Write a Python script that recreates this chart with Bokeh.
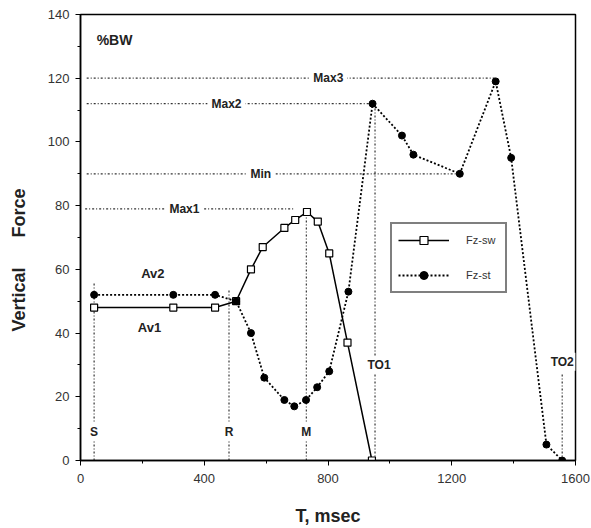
from bokeh.plotting import figure
from bokeh.models import ColumnDataSource, Legend, LegendItem, Range1d, FixedTicker
from bokeh.core.properties import value
from bokeh.embed import file_html
from bokeh.resources import INLINE

# ---- data ----
t_sw = [44, 300, 435, 503, 551, 589, 659, 694, 732, 767, 804, 863, 942]
f_sw = [48, 48, 48, 50, 60, 67, 73, 75.5, 78, 75, 65, 37, 0]

t_st = [44, 300, 435, 503, 551, 594, 659, 691, 729, 765, 804, 866, 944,
        1039, 1076, 1226, 1342, 1392, 1506, 1557]
f_st = [52, 52, 52, 50, 40, 26, 19, 17, 19, 23, 28, 53, 112,
        102, 96, 90, 119, 95, 5, 0]

# horizontal reference levels
h_names = ["Max3", "Max2", "Min", "Max1"]
h_level = [120, 112, 90, 79]
h_start = [20, 20, 20, 15]
h_end = [1342, 944, 1226, 690]
h_label_t = [801, 472, 583, 336]

# vertical event markers
v_names = ["S", "R", "M", "TO1", "TO2"]
v_time = [44, 480, 730, 952, 1557]
v_top = [56, 54, 78, 112, 27]
v_label_t = [44, 480, 730, 965, 1557]
v_label_f = [9, 9, 9, 30, 31]

# free text labels
n_text = ["Av2", "Av1"]
n_t = [234, 223]
n_f = [58.6, 41.8]
unit_text = ["%BW"]
unit_t = [110]
unit_f = [132]

x_ticks = [0, 400, 800, 1200, 1600]
y_ticks = [0, 20, 40, 60, 80, 100, 120, 140]

FONT = "Liberation Sans"

p = figure(width=591, height=528, output_backend="svg", toolbar_location=None,
           x_range=Range1d(0, 1600), y_range=Range1d(0, 140),
           min_border_left=80, min_border_right=16, min_border_top=14,
           min_border_bottom=68)
p.grid.visible = False
p.outline_line_color = "black"
p.outline_line_width = 1.5
p.background_fill_color = "white"

# axes
p.xaxis.ticker = FixedTicker(ticks=x_ticks, minor_ticks=list(range(0, 1601, 200)))
p.yaxis.ticker = FixedTicker(ticks=y_ticks, minor_ticks=list(range(0, 141, 10)))
for ax in (p.xaxis[0], p.yaxis[0]):
    ax.axis_line_color = "black"
    ax.axis_line_width = 1.5
    ax.major_tick_line_color = "black"
    ax.minor_tick_line_color = "black"
    ax.major_tick_out = 5
    ax.major_tick_in = 0
    ax.minor_tick_out = 3
    ax.minor_tick_in = 0
    ax.major_label_text_font = FONT
    ax.major_label_text_font_size = "13px"
    ax.major_label_text_color = "#333333"
    ax.axis_label_text_font = FONT
    ax.axis_label_text_font_size = "18px"
    ax.axis_label_text_font_style = "bold"
    ax.axis_label_text_color = "#222222"

p.xaxis.axis_label = "T, msec"
p.xaxis.major_label_standoff = 8
p.xaxis.axis_label_standoff = 20
nb = "\u00a0"
p.yaxis.axis_label = "Vertical" + nb * 6 + "Force" + nb * 9
p.yaxis.major_label_standoff = 6
p.yaxis.axis_label_standoff = 16

guide_color = "#333333"

# horizontal guide lines
hs = ColumnDataSource(dict(x0=h_start, x1=h_end, y=h_level, lt=h_label_t, name=h_names))
p.segment(x0="x0", y0="y", x1="x1", y1="y", source=hs, line_color=guide_color,
          line_width=1.2, line_dash="2 2 1 2")

# vertical guide lines
vs = ColumnDataSource(dict(x=v_time, top=v_top, zero=[0] * len(v_time)))
p.segment(x0="x", y0="zero", x1="x", y1="top", source=vs, line_color=guide_color,
          line_width=1.2, line_dash="2 2 1 2")

# series
r_sw_line = p.line(t_sw, f_sw, line_color="black", line_width=1.5)
r_sw_pts = p.scatter(t_sw, f_sw, marker="square", size=7, fill_color="white",
                     line_color="black", line_width=1.2)
r_st_line = p.line(t_st, f_st, line_color="black", line_width=1.8, line_dash="2 2")
r_st_pts = p.scatter(t_st, f_st, marker="circle", size=7, fill_color="black",
                     line_color="black")

# labels on horizontal lines
p.text(x="lt", y="y", text="name", source=hs, text_font=value(FONT),
       text_font_size="12px", text_font_style="bold", text_align="center",
       text_baseline="middle", text_color="#222222",
       background_fill_color="white", padding=4)

# labels on vertical lines
vl = ColumnDataSource(dict(x=v_label_t, y=v_label_f, name=v_names))
p.text(x="x", y="y", text="name", source=vl, text_font=value(FONT),
       text_font_size="12px", text_font_style="bold", text_align="center",
       text_baseline="middle", text_color="#222222",
       background_fill_color="white", padding=2)

# free labels
nl = ColumnDataSource(dict(x=n_t, y=n_f, name=n_text))
p.text(x="x", y="y", text="name", source=nl, text_font=value(FONT),
       text_font_size="13px", text_font_style="bold", text_align="center",
       text_baseline="middle", text_color="#222222")
ul = ColumnDataSource(dict(x=unit_t, y=unit_f, name=unit_text))
p.text(x="x", y="y", text="name", source=ul, text_font=value(FONT),
       text_font_size="14px", text_font_style="bold", text_align="center",
       text_baseline="middle", text_color="#222222")

legend = Legend(items=[
    LegendItem(label="Fz-sw", renderers=[r_sw_line, r_sw_pts]),
    LegendItem(label="Fz-st", renderers=[r_st_line, r_st_pts]),
], location=(310, 167))
legend.border_line_color = "black"
legend.border_line_width = 2
legend.background_fill_color = "white"
legend.background_fill_alpha = 1
legend.label_text_font = FONT
legend.label_text_font_size = "11px"
legend.label_text_color = "#333333"
legend.glyph_width = 51
legend.glyph_height = 20
legend.label_height = 20
legend.label_width = 33
legend.label_standoff = 17
legend.spacing = 15
legend.padding = 6
legend.margin = 0
p.add_layout(legend)

open("out.html", "w").write(file_html(p, INLINE))
